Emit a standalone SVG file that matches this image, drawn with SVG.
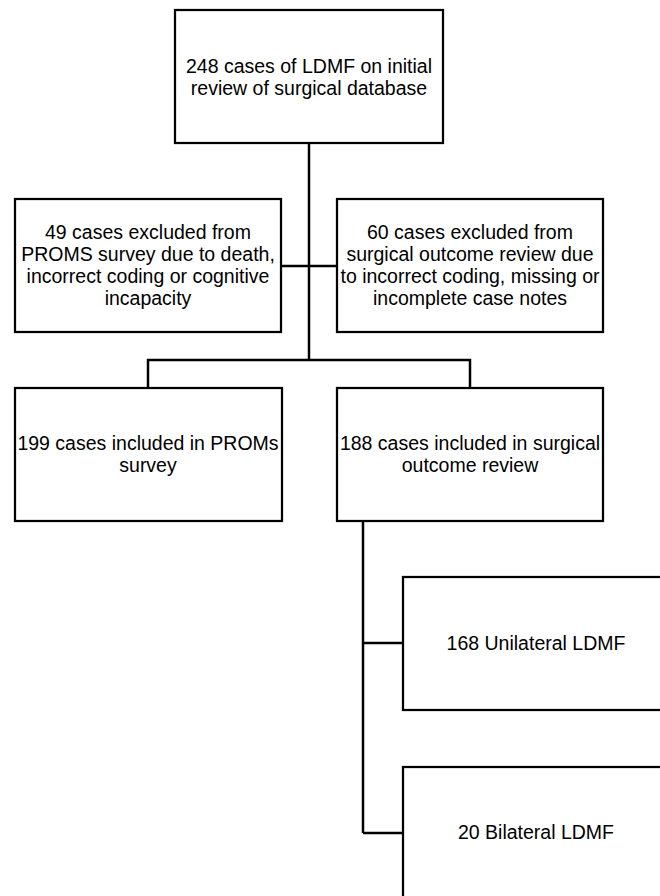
<svg xmlns="http://www.w3.org/2000/svg" width="660" height="896" viewBox="0 0 660 896">
<style>
rect.box { fill: #fff; stroke: #000; stroke-width: 2.25; }
.conn path { fill: none; stroke: #000; stroke-width: 2.5; }
text { font-family: "Liberation Sans", Arial, sans-serif; font-size: 19.5px; fill: #000; text-anchor: middle; }
</style>
<rect width="660" height="896" fill="#fff"/>
<g class="conn" id="connectors">
<path d="M309 143 V360"/>
<path d="M281 266 H337"/>
<path d="M148 388 V360 H470 V388"/>
<path d="M363 521 V833"/>
<path d="M363 643 H403"/>
<path d="M363 833 H403"/>
</g>
<g id="n-initial">
<rect class="box" x="175" y="10" width="268" height="133"/>
<text x="309" y="73">248 cases of LDMF on initial</text>
<text x="309" y="95">review of surgical database</text>
</g>
<g id="n-excl-proms">
<rect class="box" x="15" y="199" width="266" height="133"/>
<text x="148" y="239">49 cases excluded from</text>
<text x="148" y="261">PROMS survey due to death,</text>
<text x="148" y="283">incorrect coding or cognitive</text>
<text x="148" y="305">incapacity</text>
</g>
<g id="n-excl-surg">
<rect class="box" x="337" y="199" width="266" height="133"/>
<text x="470" y="239">60 cases excluded from</text>
<text x="470" y="261">surgical outcome review due</text>
<text x="470" y="283">to incorrect coding, missing or</text>
<text x="470" y="305">incomplete case notes</text>
</g>
<g id="n-proms">
<rect class="box" x="15" y="388" width="267" height="133"/>
<text x="148" y="450">199 cases included in PROMs</text>
<text x="148" y="472">survey</text>
</g>
<g id="n-surg">
<rect class="box" x="337" y="388" width="266" height="133"/>
<text x="470" y="450">188 cases included in surgical</text>
<text x="470" y="472">outcome review</text>
</g>
<g id="n-unilateral">
<rect class="box" x="403" y="577" width="267" height="133"/>
<text x="536" y="650">168 Unilateral LDMF</text>
</g>
<g id="n-bilateral">
<rect class="box" x="403" y="767" width="267" height="145"/>
<text x="536" y="839">20 Bilateral LDMF</text>
</g>
</svg>
